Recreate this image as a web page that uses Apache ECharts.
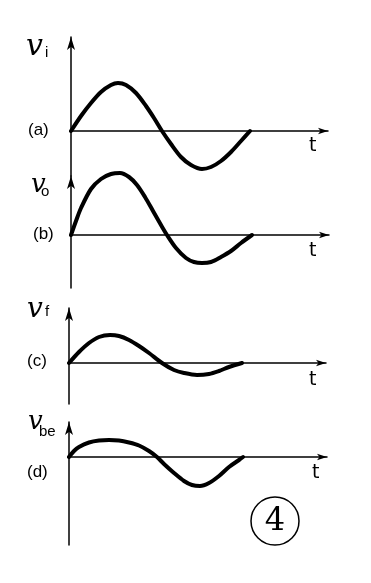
<!DOCTYPE html>
<html><head><meta charset="utf-8">
<script src="https://cdn.jsdelivr.net/npm/echarts@6/dist/echarts.min.js"></script>
<style>html,body{margin:0;padding:0;background:#fff}#c{width:371px;height:583px}</style>
</head><body><div id="c"></div>
<script>
// time samples (arbitrary units) and values read for each waveform
var tA = [0, 1, 2, 3, 4, 4.7, 5.5, 6.5, 7.5, 8.3, 9.1, 10, 11, 12, 13.1, 14, 15, 16, 17, 17.9];
var vA = [0, 1.5, 2.8, 3.9, 4.6, 4.8, 4.6, 3.8, 2.5, 1.3, 0, -1.3, -2.6, -3.4, -3.8, -3.6, -3.0, -2.1, -1.0, 0];
var tB = [0, 0.5, 1, 2, 3, 4, 4.9, 5.8, 6.6, 7.4, 8.2, 9, 9.6, 10.5, 11.5, 12.3, 13.1, 14, 15, 16, 17, 18.1];
var vB = [0, 1.4, 2.7, 4.6, 5.6, 6.1, 6.2, 5.8, 5.0, 3.8, 2.4, 1.0, 0, -1.3, -2.3, -2.7, -2.8, -2.7, -2.2, -1.6, -0.8, 0];
var tC = [0, 1, 2, 3, 4.1, 5, 6, 7, 8, 9.3, 10.5, 11.5, 12.8, 14, 15, 16, 17.3];
var vC = [0, 1.1, 2.0, 2.6, 2.8, 2.7, 2.3, 1.7, 1.0, 0, -0.7, -1.0, -1.2, -1.1, -0.8, -0.4, 0];
var tD = [0, 0.5, 1, 2, 3, 4, 5, 6, 7, 8, 8.8, 9.5, 10.5, 11.5, 12.3, 13.1, 14, 15, 16, 17, 17.4];
var vD = [0, 0.6, 1.0, 1.45, 1.65, 1.7, 1.65, 1.45, 1.15, 0.6, 0, -0.7, -1.6, -2.4, -2.8, -2.9, -2.6, -1.9, -1.0, -0.3, 0];
var panelLabels = ['(a)', '(b)', '(c)', '(d)'];
var signalNames = ['i', 'o', 'f', 'be'];
var timeLabel = 't';
var figureNumber = '4';

function pairs(t, v) { return t.map(function (x, i) { return [x, v[i]]; }); }

var grids = [
  { left: 71, top: 37, width: 257, height: 139, ymin: -4.5, ymax: 9.4, xmax: 25.7 },
  { left: 71, top: 176, width: 258, height: 112, ymin: -5.3, ymax: 5.9, xmax: 25.8 },
  { left: 69, top: 308, width: 257, height: 96, ymin: -4.1, ymax: 5.5, xmax: 25.7 },
  { left: 69, top: 422, width: 258, height: 123, ymin: -8.8, ymax: 3.5, xmax: 25.8 }
];
var seriesData = [pairs(tA, vA), pairs(tB, vB), pairs(tC, vC), pairs(tD, vD)];

var option = {
  animation: false,
  backgroundColor: '#fff',
  grid: grids.map(function (g) { return { left: g.left, top: g.top, width: g.width, height: g.height }; }),
  xAxis: grids.map(function (g, i) {
    return {
      type: 'value', gridIndex: i, min: 0, max: g.xmax,
      axisLine: { onZero: true, lineStyle: { color: '#000', width: 1.5 }, symbol: ['none', 'arrow'], symbolSize: [5, 10] },
      axisTick: { show: false }, axisLabel: { show: false }, splitLine: { show: false }
    };
  }),
  yAxis: grids.map(function (g, i) {
    return {
      type: 'value', gridIndex: i, min: g.ymin, max: g.ymax,
      axisLine: { show: true, onZero: false, lineStyle: { color: '#000', width: 1.5 }, symbol: ['none', 'arrow'], symbolSize: [6, 13] },
      axisTick: { show: false }, axisLabel: { show: false }, splitLine: { show: false }
    };
  }),
  series: seriesData.map(function (d, i) {
    return {
      type: 'line', xAxisIndex: i, yAxisIndex: i, data: d, smooth: 0.3, showSymbol: false,
      clip: false, lineStyle: { color: '#000', width: 4, cap: 'round', join: 'round' }
    };
  }),
  graphic: []
};

var vPos = [[26, 32], [31, 172], [27, 296], [28, 409]];
var subPos = [[45, 45], [41, 184], [45, 304], [39, 424]];
var vSize = [30, 26, 28, 26];
var labPos = [[28, 122], [33, 226], [27, 353], [27, 464]];
var tPos = [[309, 137], [309, 242], [309, 371], [312, 464]];
for (var i = 0; i < 4; i++) {
  option.graphic.push({ type: 'text', x: vPos[i][0], y: vPos[i][1], style: { text: 'v', font: 'italic ' + vSize[i] + 'px "DejaVu Serif"', fill: '#000' } });
  option.graphic.push({ type: 'text', x: subPos[i][0], y: subPos[i][1], style: { text: signalNames[i], font: '15px "Liberation Sans"', fill: '#000' } });
  option.graphic.push({ type: 'text', x: labPos[i][0], y: labPos[i][1], style: { text: panelLabels[i], font: '17px "Liberation Sans"', fill: '#000' } });
  option.graphic.push({ type: 'text', x: tPos[i][0], y: tPos[i][1], style: { text: timeLabel, font: '19px "DejaVu Sans"', fill: '#000' } });
}
option.graphic.push({ type: 'circle', shape: { cx: 275, cy: 521, r: 24 }, style: { fill: 'none', stroke: '#000', lineWidth: 1.5 } });
option.graphic.push({ type: 'text', x: 275, y: 522, style: { text: figureNumber, font: '32px "DejaVu Serif"', fill: '#000', align: 'center', verticalAlign: 'middle' } });

echarts.init(document.getElementById('c')).setOption(option);
</script></body></html>
